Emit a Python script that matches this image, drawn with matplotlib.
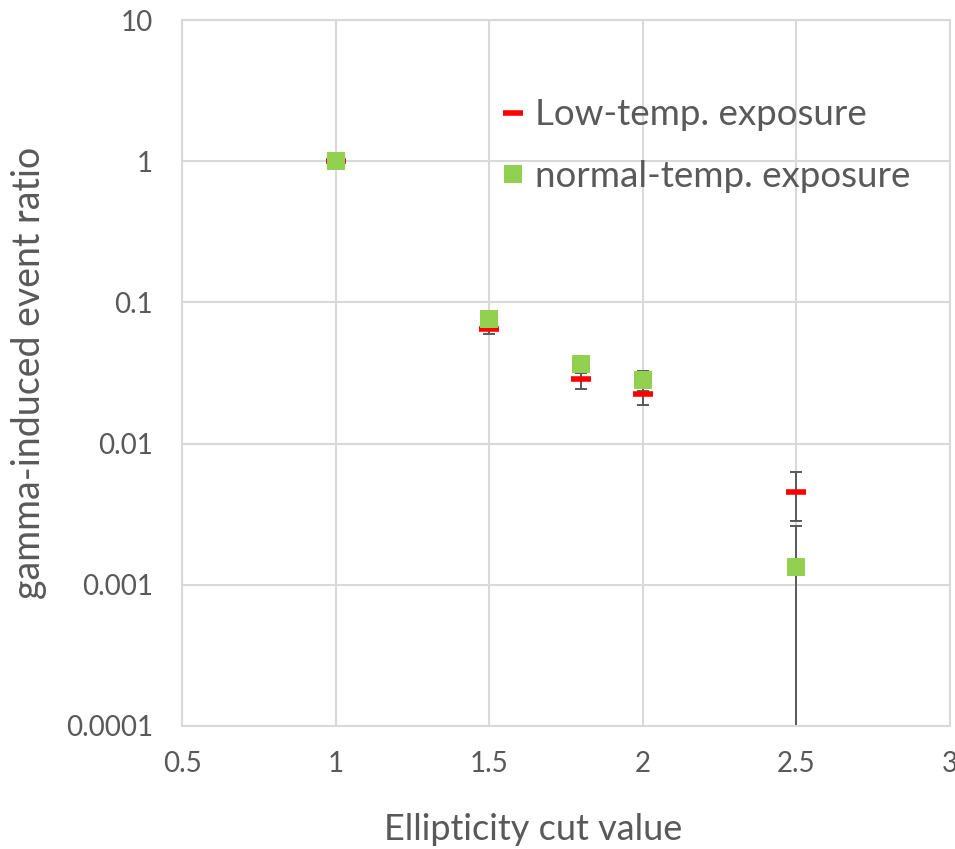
import numpy as np
import matplotlib
matplotlib.use("Agg")
import matplotlib.pyplot as plt

# values
cut = [1.0, 1.5, 1.8, 2.0, 2.5]
low_ratio = [1.0, 0.0653, 0.0289, 0.0226, 0.00455]
low_err = [0.0, 0.0060, 0.0045, 0.0038, 0.0017]
norm_ratio = [1.0, 0.0764, 0.0365, 0.0281, 0.00134]
norm_err = [0.0, 0.0, 0.0048, 0.0045, 0.00126]

x_ticks = [0.5, 1, 1.5, 2, 2.5, 3]
x_labels = ["0.5", "1", "1.5", "2", "2.5", "3"]
y_ticks = [0.0001, 0.001, 0.01, 0.1, 1, 10]
y_labels = ["0.0001", "0.001", "0.01", "0.1", "1", "10"]

plt.rcParams['font.family'] = ['Lato', 'DejaVu Sans']
txt = '#595959'
grid = '#d9d9d9'

fig = plt.figure(figsize=(9.55, 8.49), dpi=100)
ax = fig.add_axes([0.1906, 0.1449, 0.8042, 0.8315])
ax.set_yscale('log')

# error bars underneath the markers
ax.errorbar(cut, low_ratio, yerr=low_err, fmt='none', ecolor=txt,
            elinewidth=1.4, capsize=4.5, capthick=1.4, zorder=2)
ax.errorbar(cut, norm_ratio, yerr=norm_err, fmt='none', ecolor=txt,
            elinewidth=1.4, capsize=4.5, capthick=1.4, zorder=2)
ax.plot(cut, low_ratio, linestyle='none', marker='_', markersize=14,
        markeredgewidth=4, color='#ff0000', label='Low-temp. exposure', zorder=3)
ax.plot(cut, norm_ratio, linestyle='none', marker='s', markersize=12.5,
        color='#92d050', markeredgewidth=0, label='normal-temp. exposure', zorder=4)

ax.set_xlim(0.5, 3)
ax.set_ylim(0.0001, 10)
ax.set_xticks(x_ticks)
ax.set_xticklabels(x_labels)
ax.set_yticks(y_ticks)
ax.set_yticklabels(y_labels)
ax.minorticks_off()
ax.tick_params(length=0, labelsize=20, colors=txt)
ax.tick_params(axis='x', pad=18)
ax.tick_params(axis='y', pad=21)

ax.grid(True, color=grid, linewidth=1.5)
ax.set_axisbelow(True)
for s in ax.spines.values():
    s.set_color(grid)
    s.set_linewidth(1.5)

ax.set_xlabel("Ellipticity cut value", fontsize=26, color=txt, va='center')
ax.set_ylabel("gamma-induced event ratio", fontsize=27, color=txt, va='center')
ax.xaxis.set_label_coords(0.457, -0.147)
ax.yaxis.set_label_coords(-0.199, 0.5)

ax.legend(loc='upper left', bbox_to_anchor=(0.418, 0.889), frameon=False,
          fontsize=26.5, labelcolor=txt, handlelength=0.55, handletextpad=0.33,
          labelspacing=0.78, borderaxespad=0, borderpad=0)

fig.savefig("out.png", dpi=100)
